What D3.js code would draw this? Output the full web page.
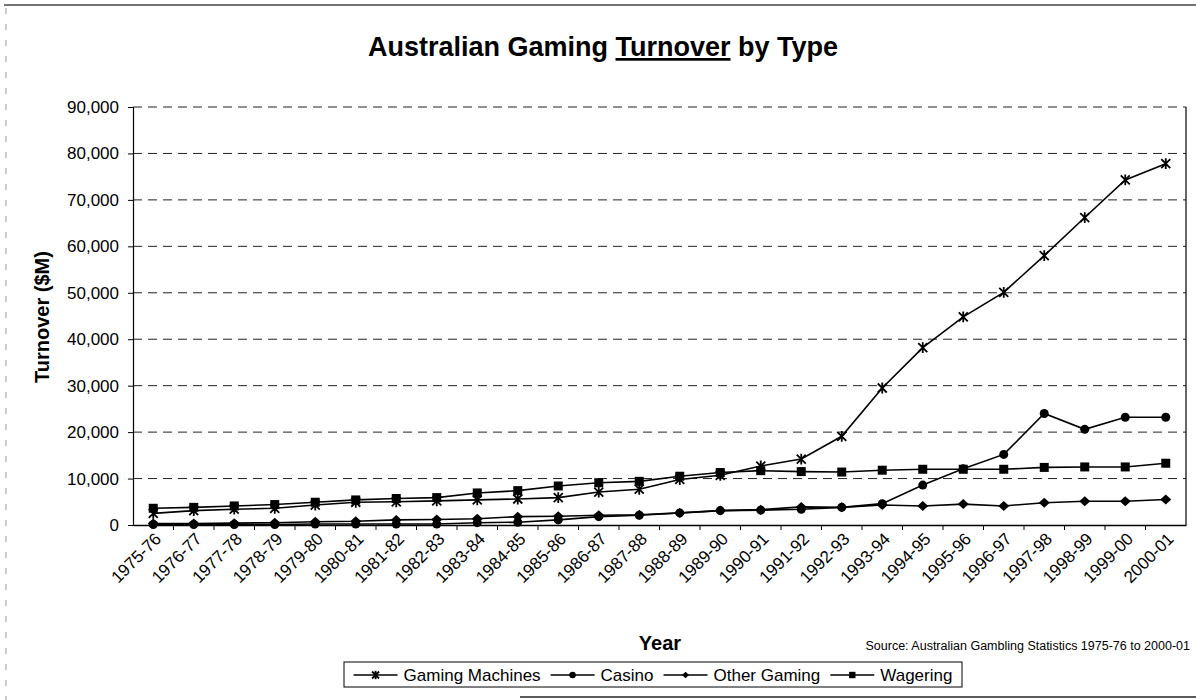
<!DOCTYPE html>
<html>
<head>
<meta charset="utf-8">
<script src="https://cdn.jsdelivr.net/npm/d3@7"></script>
<style>
  html, body { margin: 0; padding: 0; background: #fff; }
  svg { display: block; font-family: "Liberation Sans", Arial, sans-serif; }
</style>
</head>
<body>
<svg id="chart" width="1196" height="700"></svg>
<script>
const categories = ["1975-76","1976-77","1977-78","1978-79","1979-80","1980-81","1981-82","1982-83","1983-84","1984-85","1985-86","1986-87","1987-88","1988-89","1989-90","1990-91","1991-92","1992-93","1993-94","1994-95","1995-96","1996-97","1997-98","1998-99","1999-00","2000-01"];
const gamingMachines = [2500,3100,3400,3600,4300,4900,5000,5200,5400,5600,5900,7100,7700,9800,10700,12700,14200,19100,29500,38200,44800,50100,58000,66200,74300,77800];
const casino = [100,100,100,100,200,200,200,200,500,600,1100,1800,2100,2600,3100,3200,3400,3800,4600,8600,12100,15200,24000,20600,23200,23200];
const otherGaming = [300,300,400,500,700,800,1100,1200,1350,1800,1900,2100,2200,2600,3100,3300,3900,3800,4300,4100,4500,4100,4800,5100,5100,5500];
const wagering = [3600,3800,4100,4400,4900,5400,5700,5900,6900,7400,8400,9100,9400,10500,11300,11700,11500,11400,11800,12000,12000,12000,12400,12500,12500,13300];
const yTicks = [0,10000,20000,30000,40000,50000,60000,70000,80000,90000];
const seriesNames = ["Gaming Machines","Casino","Other Gaming","Wagering"];
const seriesMarkers = ["star","circle","diamond","square"];

const series = [gamingMachines, casino, otherGaming, wagering].map((vals, k) => ({
  name: seriesNames[k], marker: seriesMarkers[k], values: vals
}));

const svg = d3.select("#chart");
const plotLeft = 133, plotRight = 1186, plotTop = 107, plotBottom = 525;

// scan frame lines
svg.append("line").attr("x1", 4).attr("x2", 1196).attr("y1", 5).attr("y2", 5)
  .attr("stroke", "#444").attr("stroke-width", 1.5);
svg.append("line").attr("x1", 6).attr("x2", 6).attr("y1", 8).attr("y2", 700)
  .attr("stroke", "#999").attr("stroke-width", 1).attr("stroke-dasharray", "6,10");
svg.append("line").attr("x1", 520).attr("x2", 1196).attr("y1", 697).attr("y2", 697)
  .attr("stroke", "#222").attr("stroke-width", 1.5);

const x = d3.scaleBand().domain(categories).range([plotLeft, plotRight]).padding(0);
const xc = d => x(d) + x.bandwidth() / 2;
const y = d3.scaleLinear().domain([0, 90000]).range([plotBottom, plotTop]);

// title
const title = svg.append("text").attr("x", 603).attr("y", 56)
  .attr("text-anchor", "middle").attr("font-weight", "bold").attr("font-size", 27);
title.append("tspan").text("Australian Gaming ");
title.append("tspan").attr("text-decoration", "underline").text("Turnover");
title.append("tspan").text(" by Type");

// gridlines
svg.append("g").selectAll("line").data(yTicks.filter(t => t > 0)).join("line")
  .attr("x1", plotLeft).attr("x2", plotRight)
  .attr("y1", d => y(d)).attr("y2", d => y(d))
  .attr("stroke", "#222").attr("stroke-width", 1).attr("stroke-dasharray", "9,6");

// y axis
const yAxis = d3.axisLeft(y).tickValues(yTicks).tickSize(5).tickPadding(9)
  .tickFormat(d3.format(","));
const gy = svg.append("g").attr("transform", `translate(${plotLeft},0)`).call(yAxis);
gy.select(".domain").attr("stroke", "#000").attr("stroke-width", 1.2);
gy.selectAll(".tick line").attr("stroke", "#000");
gy.selectAll("text").attr("font-size", 17).attr("fill", "#000")
  .attr("font-family", "'Liberation Sans', Arial, sans-serif");

// right border
svg.append("line").attr("x1", plotRight).attr("x2", plotRight).attr("y1", plotTop).attr("y2", plotBottom)
  .attr("stroke", "#000").attr("stroke-width", 1.2);

// x axis
const xAxis = d3.axisBottom(x).tickSize(0).tickPadding(0);
const gx = svg.append("g").attr("transform", `translate(0,${plotBottom})`).call(xAxis);
gx.select(".domain").attr("stroke", "#000").attr("stroke-width", 1.5);
gx.selectAll(".tick text")
  .attr("font-size", 17).attr("fill", "#000")
  .attr("font-family", "'Liberation Sans', Arial, sans-serif")
  .attr("text-anchor", "end")
  .attr("transform", "translate(9,15) rotate(-45)")
  .attr("dy", "0");
// category boundary ticks
svg.append("g").selectAll("line").data(categories.slice(1)).join("line")
  .attr("x1", d => x(d)).attr("x2", d => x(d))
  .attr("y1", plotBottom).attr("y2", plotBottom + 5)
  .attr("stroke", "#000").attr("stroke-width", 1);

// axis titles
svg.append("text").attr("transform", "translate(49,317) rotate(-90)")
  .attr("text-anchor", "middle").attr("font-weight", "bold").attr("font-size", 20)
  .text("Turnover ($M)");
svg.append("text").attr("x", 660).attr("y", 650)
  .attr("text-anchor", "middle").attr("font-weight", "bold").attr("font-size", 20)
  .text("Year");

svg.append("text").attr("x", 1190).attr("y", 650)
  .attr("text-anchor", "end").attr("font-size", 12.5)
  .text("Source: Australian Gambling Statistics 1975-76 to 2000-01");

// marker drawing
function drawMarker(g, type, s) {
  if (type === "star") {
    const a = s;
    g.append("path").attr("d",
      `M${-a},${-a}L${a},${a}M${-a},${a}L${a},${-a}M0,${-a*1.2}L0,${a*1.2}`)
      .attr("stroke", "#000").attr("stroke-width", 1.8).attr("fill", "none");
  } else if (type === "circle") {
    g.append("circle").attr("r", s).attr("fill", "#000");
  } else if (type === "diamond") {
    g.append("path").attr("d", `M0,${-s}L${s*1.1},0L0,${s}L${-s*1.1},0Z`).attr("fill", "#000");
  } else if (type === "square") {
    g.append("rect").attr("x", -s).attr("y", -s).attr("width", 2*s).attr("height", 2*s).attr("fill", "#000");
  }
}
const markerSize = { star: 4.5, circle: 4.5, diamond: 5, square: 4.5 };

const line = d3.line().x((d, i) => xc(categories[i])).y(d => y(d));
series.forEach(s => {
  const g = svg.append("g");
  g.append("path").attr("d", line(s.values)).attr("fill", "none")
    .attr("stroke", "#000").attr("stroke-width", 1.6);
  s.values.forEach((v, i) => {
    const m = g.append("g").attr("transform", `translate(${xc(categories[i])},${y(v)})`);
    drawMarker(m, s.marker, markerSize[s.marker]);
  });
});

// legend (layout measured from text widths)
const lg = svg.append("g");
const boxX = 344, boxW = 618, boxY = 662, boxH = 25;
lg.append("rect").attr("x", boxX).attr("y", boxY).attr("width", boxW).attr("height", boxH)
  .attr("fill", "#fff").attr("stroke", "#000").attr("stroke-width", 1);
const lineLen = 44, gapLT = 6, gapTL = 10;
const items = series.map(s => {
  const t = lg.append("text").attr("y", boxY + 19).attr("font-size", 17).text(s.name);
  return { s, t, w: t.node().getComputedTextLength() };
});
const total = d3.sum(items, d => lineLen + gapLT + d.w) + gapTL * (items.length - 1);
let cx = boxX + (boxW - total) / 2;
items.forEach(it => {
  lg.append("line").attr("x1", cx).attr("x2", cx + lineLen).attr("y1", boxY + 13).attr("y2", boxY + 13)
    .attr("stroke", "#000").attr("stroke-width", 1.5);
  const m = lg.append("g").attr("transform", `translate(${cx + lineLen / 2},${boxY + 13})`);
  drawMarker(m, it.s.marker, it.s.marker === "star" ? 3.5 : 3.2);
  it.t.attr("x", cx + lineLen + gapLT);
  cx += lineLen + gapLT + it.w + gapTL;
});
</script>
</body>
</html>
